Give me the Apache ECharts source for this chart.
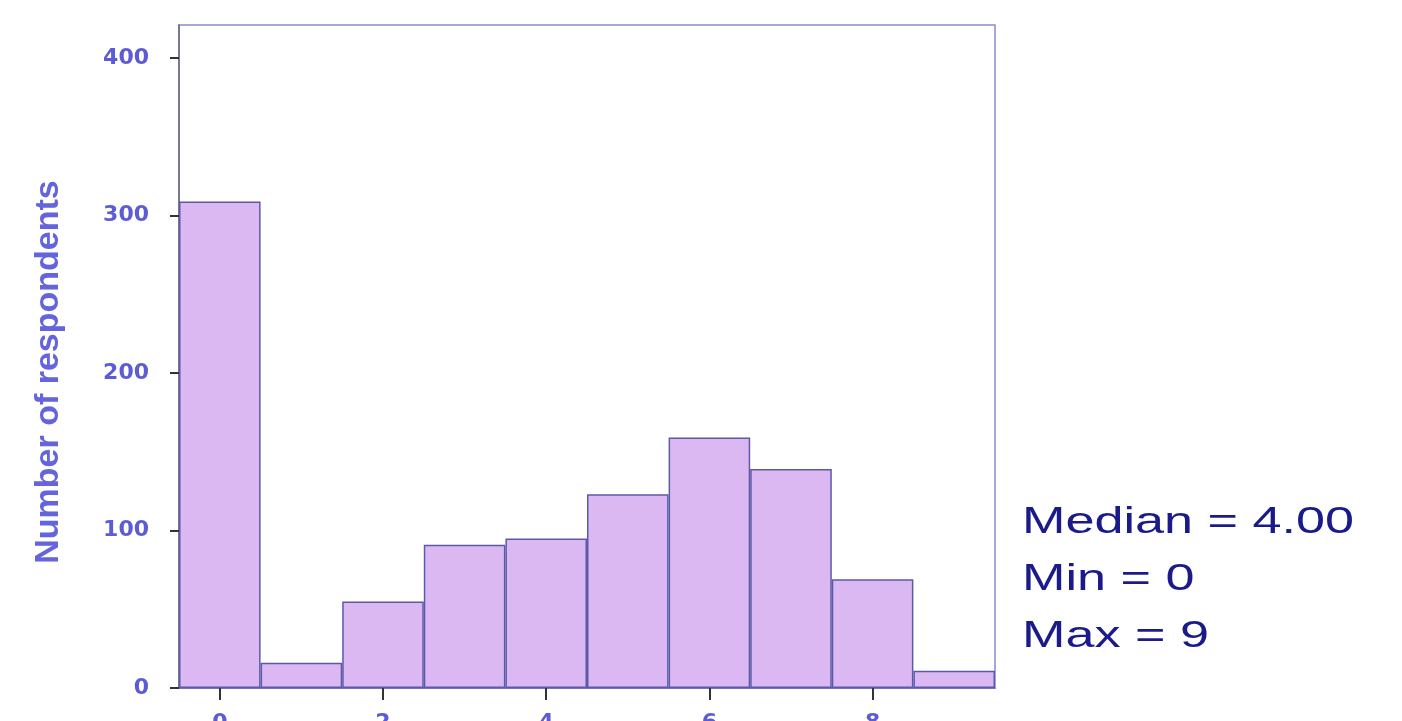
<!DOCTYPE html>
<html>
<head>
<meta charset="utf-8">
<script src="https://cdn.jsdelivr.net/npm/echarts@6/dist/echarts.min.js"></script>
<style>
html,body{margin:0;padding:0;background:#fff;}
#chart{width:1402px;height:721px;}
</style>
</head>
<body>
<div id="chart"></div>
<script>
const categories = ['0','1','2','3','4','5','6','7','8','9'];
const counts = [309, 16, 55, 91, 95, 123, 159, 139, 69, 11];
const yTicks = [0, 100, 200, 300, 400];
const yTitle = 'Number of respondents';
const statLines = ['Median = 4.00', 'Min = 0', 'Max = 9'];

const chart = echarts.init(document.getElementById('chart'));
const labelColor = '#5c5cd6';
chart.setOption({
  animation: false,
  backgroundColor: '#ffffff',
  grid: {
    left: 179, right: 407, top: 25, bottom: 33,
    containLabel: false,
    outerBoundsMode: 'none',
    show: true, borderColor: '#8a8ad0', borderWidth: 1.5, backgroundColor: 'transparent'
  },
  xAxis: {
    type: 'category',
    data: categories,
    boundaryGap: true,
    axisLine: { show: true, lineStyle: { color: '#6262c4', width: 1.5 } },
    axisTick: { show: true, interval: 1, alignWithLabel: true, length: 12, lineStyle: { color: '#333333', width: 2 } },
    axisLabel: { interval: 1, margin: 24, color: labelColor, fontFamily: 'DejaVu Sans', fontWeight: 'bold', fontSize: 22 },
    splitLine: { show: false }
  },
  yAxis: {
    type: 'value',
    min: 0, max: 421,
    axisLine: { show: true, lineStyle: { color: '#66667e', width: 1.5 } },
    axisTick: { show: true, customValues: yTicks, length: 9, lineStyle: { color: '#333333', width: 2 } },
    axisLabel: { customValues: yTicks, margin: 30, color: labelColor, fontFamily: 'DejaVu Sans', fontWeight: 'bold', fontSize: 22 },
    splitLine: { show: false }
  },
  series: [{
    type: 'bar',
    data: counts,
    barCategoryGap: '0%',
    itemStyle: { color: '#dcb8f2', borderColor: '#5a5aa8', borderWidth: 1.5 }
  }],
  graphic: [{
    type: 'text',
    x: 49,
    y: 372,
    rotation: Math.PI / 2,
    style: {
      text: yTitle,
      fill: '#6464dc',
      font: 'bold 34px "Liberation Sans", Arial, sans-serif',
      textAlign: 'center',
      textVerticalAlign: 'middle',
      align: 'center',
      verticalAlign: 'middle'
    }
  }].concat(statLines.map((t, i) => ({
    type: 'text',
    x: 1022,
    y: 523 + i * 57,
    scaleX: 1.41,
    style: {
      text: t,
      fill: '#1a1a8a',
      font: '37px "Liberation Sans", Arial, sans-serif',
      textVerticalAlign: 'middle',
      verticalAlign: 'middle'
    }
  })))
});
</script>
</body>
</html>
